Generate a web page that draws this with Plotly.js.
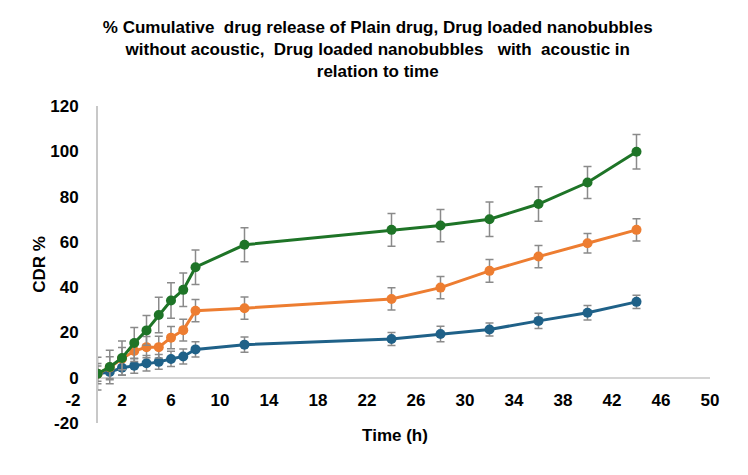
<!DOCTYPE html>
<html>
<head>
<meta charset="utf-8">
<script src="https://cdn.plot.ly/plotly-3.0.1.min.js"></script>
<style>html,body{margin:0;padding:0;background:#fff;}#chart{width:748px;height:475px;}</style>
</head>
<body>
<div id="chart"></div>
<script>
// Time points (h)
const time = [0, 1, 2, 3, 4, 5, 6, 7, 8, 12, 24, 28, 32, 36, 40, 44];
// % CDR series
const plainDrug = [1.8, 2.5, 4.4, 5.3, 6.4, 7.0, 8.3, 9.4, 12.5, 14.6, 17.1, 19.3, 21.3, 25.1, 28.7, 33.5];
const nbWithoutAcoustic = [1.8, 4.5, 8.4, 11.8, 13.5, 13.5, 17.7, 21.0, 29.6, 30.7, 34.8, 39.8, 47.2, 53.5, 59.4, 65.3];
const nbWithAcoustic = [1.8, 4.7, 8.7, 15.3, 20.9, 27.7, 34.1, 38.8, 48.8, 58.7, 65.3, 67.2, 70.0, 76.7, 86.2, 99.8];
// Error bars (±)
const plainDrugErr = [3.4, 3.4, 3.3, 3.3, 3.4, 3.3, 3.4, 3.3, 3.4, 3.4, 2.9, 3.4, 2.9, 3.4, 3.2, 2.9];
const nbWithoutErr = [4.5, 4.8, 4.9, 4.6, 4.7, 4.8, 4.9, 4.8, 4.9, 4.9, 4.9, 4.9, 5.0, 4.9, 4.3, 4.9];
const nbWithErr = [7.2, 7.4, 7.5, 6.9, 6.6, 7.8, 7.8, 7.4, 7.6, 7.5, 7.2, 7.1, 7.6, 7.6, 7.1, 7.6];
// Axis ticks
const xTicks = [-2, 2, 6, 10, 14, 18, 22, 26, 30, 34, 38, 42, 46, 50];
const yTicks = [-20, 0, 20, 40, 60, 80, 100, 120];

const FONT = 'Arial, "Liberation Sans", sans-serif';
const errStyle = (arr) => ({type: 'data', array: arr, visible: true, color: '#8a8a8a', thickness: 1.5, width: 4});
const mk = (name, y, err, color) => ({
  type: 'scatter', mode: 'lines+markers', name: name, x: time, y: y,
  line: {color: color, width: 3}, marker: {color: color, size: 10},
  error_y: errStyle(err), xaxis: 'x', yaxis: 'y'
});

const traces = [
  // empty helper trace so the tick-label axis (x2) is registered
  {type: 'scatter', mode: 'markers', x: [], y: [], xaxis: 'x2', yaxis: 'y2', showlegend: false, hoverinfo: 'skip'},
  mk('Plain drug', plainDrug, plainDrugErr, '#1f6188'),
  mk('Drug loaded nanobubbles without acoustic', nbWithoutAcoustic, nbWithoutErr, '#ed7d31'),
  mk('Drug loaded nanobubbles with acoustic', nbWithAcoustic, nbWithErr, '#1e7427')
];

const L = 60, R = 18, W = 748 - L - R;
const pxPerUnit = 12.25;
const x0px = 97.5, x50px = 710;
const yMin = -20, yMax = 120;

const layout = {
  width: 748, height: 475,
  paper_bgcolor: '#fff', plot_bgcolor: 'rgba(0,0,0,0)',
  margin: {l: L, r: R, t: 106, b: 52},
  showlegend: false,
  font: {family: FONT, color: '#000'},
  title: {
    text: '% Cumulative  drug release of Plain drug, Drug loaded nanobubbles<br>without acoustic,  Drug loaded nanobubbles   with  acoustic in<br>relation to time',
    font: {family: FONT, size: 17, color: '#000', weight: 'bold'},
    x: 0.505, xanchor: 'center', yref: 'container', y: 0.93, yanchor: 'top'
  },
  xaxis: {
    domain: [(x0px - L) / W, (x50px - L) / W],
    range: [0, 50], showgrid: false, zeroline: false, showline: false,
    showticklabels: false, ticks: '', anchor: 'y'
  },
  xaxis2: {
    domain: [0, 1],
    range: [-(x0px - L) / pxPerUnit, 50 + (L + W - x50px) / pxPerUnit],
    anchor: 'free', position: (0 - yMin) / (yMax - yMin),
    showgrid: false, zeroline: false, showline: false, ticks: '',
    tickmode: 'array', tickvals: xTicks, ticktext: xTicks.map(String),
    tickfont: {family: FONT, size: 17, color: '#000', weight: 'bold'},
    ticklabelstandoff: 10,
    title: {text: 'Time (h)', font: {family: FONT, size: 17, color: '#000', weight: 'bold'}, standoff: 20}
  },
  yaxis: {
    range: [yMin, yMax], domain: [0, 1], anchor: 'x',
    showgrid: false, showline: true, linecolor: '#c8c8c8', linewidth: 1.5,
    zeroline: true, zerolinecolor: '#d4d4d4', zerolinewidth: 2,
    ticks: '', tickmode: 'array', tickvals: yTicks, ticktext: yTicks.map(String),
    tickfont: {family: FONT, size: 17, color: '#000', weight: 'bold'},
    ticklabelstandoff: 14,
    title: {text: 'CDR %', font: {family: FONT, size: 17, color: '#000', weight: 'bold'}, standoff: 0}
  },
  yaxis2: {
    range: [yMin, yMax], domain: [0, 1], anchor: 'x2',
    visible: false, showgrid: false, zeroline: false, showline: false
  }
};

Plotly.newPlot('chart', traces, layout, {displayModeBar: false, staticPlot: true});
</script>
</body>
</html>
